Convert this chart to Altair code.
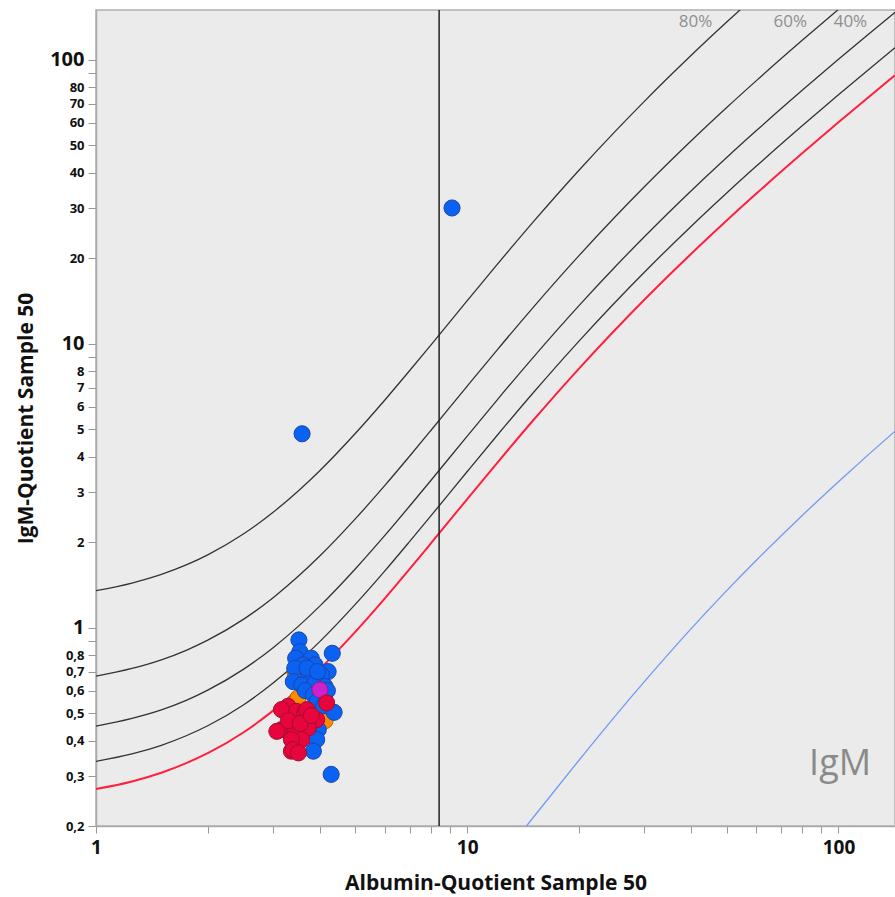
import altair as alt
import pandas as pd

# ---- curve values (Reiber diagram, IgM) ----
alb_grid = [1, 1.25, 1.5, 1.75, 2, 2.5, 3, 3.5, 4, 5, 6, 7, 8, 10, 12, 15, 20, 25, 30, 40, 50, 60, 80, 100, 120, 142]
qlim_igm = [0.27, 0.287, 0.308, 0.333, 0.361, 0.428, 0.510, 0.605, 0.713, 0.968, 1.268, 1.61, 1.988, 2.838, 3.786, 5.345,
            8.179, 11.188, 14.298, 20.687, 27.195, 33.764, 47.0, 60.301, 73.634, 88.323]
line_20 = [0.338, 0.359, 0.385, 0.416, 0.451, 0.535, 0.638, 0.756, 0.891, 1.21, 1.585, 2.013, 2.485, 3.548, 4.733, 6.681,
           10.224, 13.985, 17.873, 25.859, 33.994, 42.205, 58.75, 75.376, 92.043, 110.404]
line_40 = [0.45, 0.479, 0.513, 0.554, 0.602, 0.714, 0.85, 1.008, 1.188, 1.613, 2.113, 2.683, 3.313, 4.73, 6.31, 8.908,
           13.632, 18.647, 23.83, 34.478, 45.325, 56.273, 78.333, 100.502, 122.723, 147.205]
line_60 = [0.675, 0.718, 0.77, 0.832, 0.903, 1.071, 1.275, 1.513, 1.783, 2.42, 3.17, 4.025, 4.97, 7.095, 9.465, 13.363,
           20.448, 27.97, 35.745, 51.718, 67.988, 84.41, 117.5, 150.753, 184.085, 220.808]
line_80 = [1.35, 1.436, 1.54, 1.663, 1.805, 2.141, 2.55, 3.025, 3.565, 4.84, 6.34, 8.05, 9.94, 14.19, 18.93, 26.725,
           40.895, 55.94, 71.49, 103.435, 135.975, 168.82, 235.0, 301.5, 368.17, 441.6]
low_grid = [14, 15, 20, 25, 30, 40, 50, 60, 80, 100, 120, 142]
qlow_igm = [0.190, 0.213, 0.341, 0.487, 0.645, 0.988, 1.350, 1.723, 2.489, 3.267, 4.053, 4.922]
ref_alb = [8.4]

# ---- sample points ----
blue_x = [9.1, 3.59, 4.30, 3.52, 4.33, 3.54, 3.45, 3.80, 3.89, 3.61, 3.43, 4.22, 4.05, 3.73,
          3.40, 3.58, 3.89, 4.14, 3.70, 3.95, 3.66, 3.85, 3.95, 4.10, 4.38, 3.97, 3.93, 3.85, 4.20]
blue_y = [30.1, 4.82, 0.304, 0.905, 0.812, 0.823, 0.780, 0.780, 0.739, 0.739, 0.719, 0.700, 0.681, 0.681,
          0.645, 0.628, 0.637, 0.620, 0.72, 0.70, 0.60, 0.58, 0.55, 0.53, 0.503, 0.437, 0.403, 0.367, 0.60]
red_x = [3.29, 3.16, 3.47, 3.65, 3.70, 3.93, 3.16, 3.07, 3.43, 3.73, 3.58, 3.36, 3.36, 3.40,
         3.51, 4.18, 3.30, 3.55, 3.80]
red_y = [0.528, 0.514, 0.507, 0.501, 0.514, 0.474, 0.437, 0.431, 0.431, 0.443, 0.403, 0.403, 0.367, 0.372,
         0.362, 0.543, 0.47, 0.46, 0.49]
magenta_x = [4.01]
magenta_y = [0.604]
orange_x = [3.44, 3.50, 4.14]
orange_y = [0.69, 0.565, 0.47]

pct_labels = ["80%", "60%", "40%"]
pct_x = [41.2, 74.2, 107.7]
pct_y = [136, 136, 136]

y_ticks = [0.2, 0.3, 0.4, 0.5, 0.6, 0.7, 0.8, 0.9, 1, 2, 3, 4, 5, 6, 7, 8, 9,
           10, 20, 30, 40, 50, 60, 70, 80, 90, 100]
x_ticks = [1, 2, 3, 4, 5, 6, 7, 8, 9, 10, 20, 30, 40, 50, 60, 70, 80, 90, 100]

FONT = "Open Sans"

xscale = alt.Scale(type="log", domain=[1, 142], nice=False)
yscale = alt.Scale(type="log", domain=[0.2, 150], nice=False)

xaxis = alt.Axis(
    values=x_ticks,
    labelExpr="(datum.value == 1 || datum.value == 10 || datum.value == 100) ? toString(datum.value) : ''",
    title="Albumin-Quotient Sample 50",
    titleFont=FONT, titleFontSize=21, titleFontWeight="bold", titleColor="#111",
    titleY=57, titleBaseline="middle",
    labelFont=FONT, labelFontSize=19, labelFontWeight="bold", labelColor="#111",
    labelPadding=5, tickSize=7, tickColor="#999", domainColor="#aaa", domainWidth=1.5,
    grid=False, labelFlush=False, labelOverlap=False,
)
yaxis = alt.Axis(
    values=y_ticks,
    labelExpr="indexof([0.9, 9, 90], datum.value) >= 0 ? '' : replace(toString(datum.value), '.', ',')",
    title="IgM-Quotient Sample 50",
    titleFont=FONT, titleFontSize=21, titleFontWeight="bold", titleColor="#111",
    titleX=-70, titleBaseline="middle",
    labelFont=FONT, labelFontWeight="bold", labelColor="#111",
    labelFontSize={"condition": {"test": "datum.value == 1 || datum.value == 10 || datum.value == 100", "value": 20}, "value": 13},
    labelPadding=4, tickSize=8, tickColor="#999", domainColor="#aaa", domainWidth=1.5,
    grid=False, labelFlush=False, labelOverlap=False,
)


def X(field="x"):
    return alt.X(f"{field}:Q", scale=xscale, axis=xaxis)


def Y(field="y"):
    return alt.Y(f"{field}:Q", scale=yscale, axis=yaxis)


n = len(alb_grid)
curves = pd.DataFrame({
    "x": alb_grid * 4,
    "y": line_20 + line_40 + line_60 + line_80,
    "curve": ["20"] * n + ["40"] * n + ["60"] * n + ["80"] * n,
})
limit = pd.DataFrame({"x": alb_grid, "y": qlim_igm})
lower = pd.DataFrame({"x": low_grid, "y": qlow_igm})
vline = pd.DataFrame({"x": ref_alb})

black = alt.Chart(curves).mark_line(color="#333333", strokeWidth=1.3, clip=True, interpolate="monotone").encode(
    x=X(), y=Y(), detail="curve:N")
red = alt.Chart(limit).mark_line(color="#ff1f3f", strokeWidth=2, clip=True, interpolate="monotone").encode(
    x=X(), y=Y())
blue_line = alt.Chart(lower).mark_line(color="#6e9bf2", strokeWidth=1.3, clip=True, interpolate="monotone").encode(
    x=X(), y=Y())
rule = alt.Chart(vline).mark_rule(color="#222222", strokeWidth=1.5).encode(x=X())


def points(xs, ys, fill, stroke):
    df = pd.DataFrame({"x": xs, "y": ys})
    return alt.Chart(df).mark_point(filled=True, size=260, fill=fill, stroke=stroke,
                                    strokeWidth=1, opacity=1, fillOpacity=1, shape="circle").encode(x=X(), y=Y())


p_orange = points(orange_x, orange_y, "#ff8a00", "#c06000")
p_blue = points(blue_x, blue_y, "#0a62f2", "#1c45a8")
p_mag = points(magenta_x, magenta_y, "#cc22cc", "#8a1a8a")
p_red = points(red_x, red_y, "#e8043c", "#a0102c")

pct = alt.Chart(pd.DataFrame({"x": pct_x, "y": pct_y, "t": pct_labels})).mark_text(
    font=FONT, fontSize=17, color="#8f8f8f", align="center", baseline="middle").encode(
    x=X(), y=Y(), text="t:N")
igm = alt.Chart(pd.DataFrame({"x": [101], "y": [0.332], "t": ["IgM"]})).mark_text(
    font=FONT, fontSize=36, color="#8a8a8a", align="center", baseline="middle").encode(
    x=X(), y=Y(), text="t:N")

chart = alt.layer(
    black, red, blue_line, rule, p_orange, p_blue, p_mag, p_red, pct, igm
).properties(
    width=799, height=816,
    autosize=alt.AutoSizeParams(type="none"),
    padding={"left": 96, "top": 10, "right": 0, "bottom": 71},
    background="white",
).configure_view(fill="#ebebeb", stroke="#b0b0b0", strokeWidth=1.5)

chart.save("out.html", embed_options={"renderer": "svg", "actions": False})
